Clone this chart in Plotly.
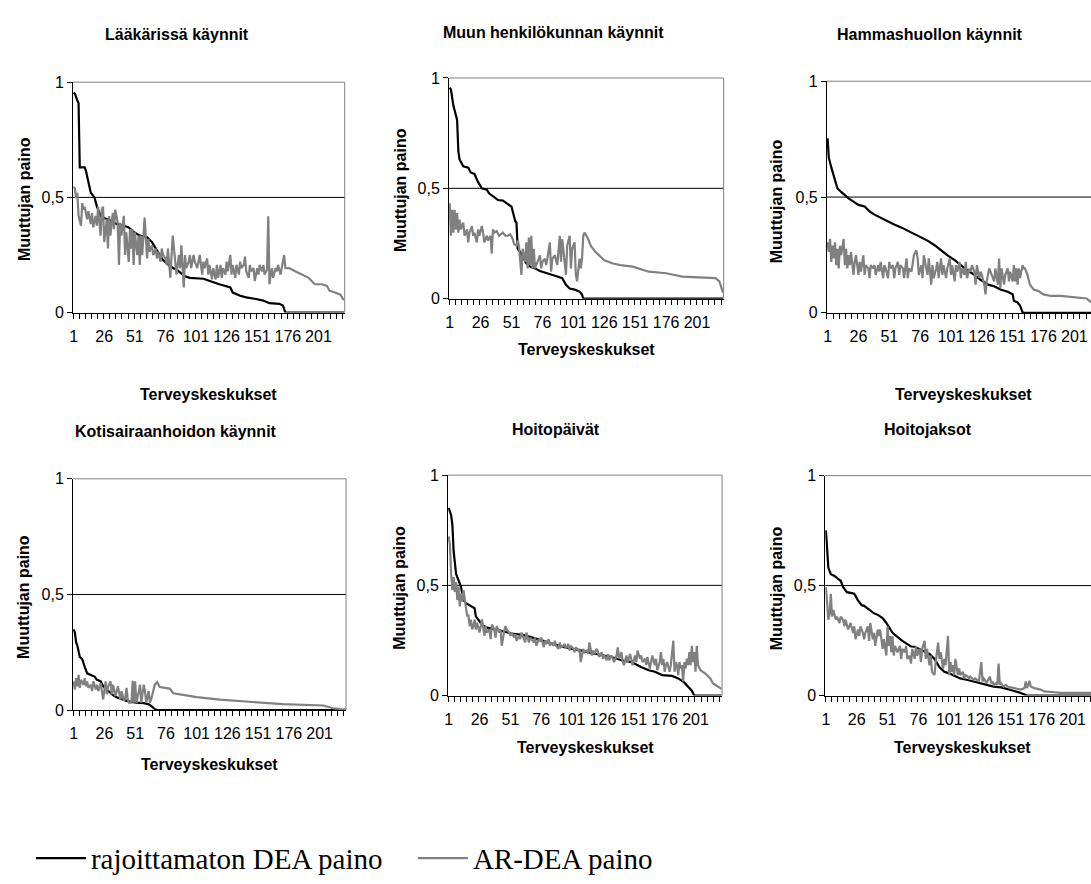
import plotly.graph_objects as go

W, H = 1091, 884

# ---------------- text ----------------
chart_titles = ["Lääkärissä käynnit", "Muun henkilökunnan käynnit", "Hammashuollon käynnit",
                "Kotisairaanhoidon käynnit", "Hoitopäivät", "Hoitojaksot"]
x_title = "Terveyskeskukset"
y_title = "Muuttujan paino"
series_names = ["rajoittamaton DEA paino", "AR-DEA paino"]

x_tick_vals = [1, 26, 51, 76, 101, 126, 151, 176, 201]
x_tick_text = ["1", "26", "51", "76", "101", "126", "151", "176", "201"]
y_tick_vals = [0, 0.5, 1]
y_tick_text = ["0", "0,5", "1"]

# ---------------- data (category, weight) ----------------
laakari_dea = [(1,.955),(2,.95),(4,.92),(5,.91),(6,.63),(10,.63),(11,.616),(13,.56),(15,.52),(18,.50),(20,.46),
               (23,.42),(26,.41),(31,.40),(36,.385),(42,.377),(46,.37),(50,.35),(55,.334),(61,.327),(65,.306),
               (69,.27),(74,.228),(80,.20),(85,.186),(92,.158),(96,.151),(107,.147),(112,.137),(120,.123),
               (129,.109),(131,.087),(137,.073),(142,.066),(150,.059),(156,.052),(161,.041),(169,.038),
               (172,.031),(174,0),(222,0)]
laakari_ar = [(1,.546),(2,.539),(3,.497),(4,.52),(5,.42),(7,.377),(8,.475),(9,.447),(10,.46),(12,.405),(13,.44),
              (15,.384),(16,.432),(17,.37),(19,.42),(20,.377),(21,.46),(23,.334),(24,.447),(25,.46),(26,.306),
              (28,.405),(29,.278),(30,.419),(31,.334),(33,.433),(34,.362),(35,.447),(37,.39),(38,.207),(39,.39),
              (40,.334),(42,.42),(43,.25),(44,.348),(46,.22),(47,.362),(48,.277),(49,.362),(50,.207),(51,.348),
              (53,.249),(54,.334),(55,.207),(56,.334),(57,.249),(59,.412),(60,.306),(61,.235),(62,.32),(63,.264),
              (65,.292),(66,.249),(68,.278),(69,.235),(70,.264),(72,.221),(73,.278),(74,.25),(76,.235),(77,.207),
              (78,.278),(80,.151),(81,.25),(82,.334),(84,.221),(85,.165),(87,.25),(88,.193),(89,.292),(91,.109),
              (92,.25),(93,.193),(95,.221),(96,.25),(97,.193),(99,.25),(100,.221),(102,.193),(103,.221),(104,.25),
              (106,.165),(107,.221),(108,.193),(110,.235),(111,.165),(112,.207),(114,.144),(115,.193),(117,.144),
              (118,.207),(119,.151),(121,.207),(122,.151),(123,.193),(125,.165),(126,.221),(127,.179),(129,.25),
              (130,.165),(131,.207),(133,.151),(134,.207),(136,.165),(137,.221),(138,.193),(140,.207),(141,.243),
              (142,.179),(144,.151),(145,.207),(146,.179),(148,.193),(149,.137),(151,.193),(152,.165),(153,.207),
              (155,.179),(156,.207),(157,.165),(159,.186),(160,.418),(161,.123),(162,.165),(163,.193),(164,.151),
              (166,.193),(167,.179),(168,.207),(170,.165),(171,.193),(172,.207),(173,.25),(174,.193),(177,.193),
              (182,.179),(187,.165),(193,.151),(198,.123),(204,.123),(208,.116),(210,.095),(214,.088),(219,.078),
              (221,.06),(222,.055)]

muu_dea = [(1,.956),(2,.948),(4,.875),(7,.81),(8,.668),(9,.63),(12,.60),(16,.594),(18,.572),(21,.565),(24,.528),
           (27,.50),(31,.494),(33,.476),(37,.46),(40,.447),(44,.444),(47,.432),(51,.417),(52,.395),(54,.351),
           (55,.344),(56,.226),(58,.211),(60,.189),(63,.16),(66,.145),(70,.137),(74,.125),(79,.115),(83,.108),
           (88,.10),(92,.093),(95,.063),(98,.046),(102,.041),(106,.031),(108,.019),(109,0),(222,0)]
muu_ar = [(1,.432),(2,.285),(3,.403),(4,.299),(5,.403),(6,.314),(7,.388),(8,.299),(9,.358),(10,.314),(12,.344),
          (13,.285),(15,.314),(16,.255),(17,.299),(19,.329),(20,.285),(21,.299),(23,.255),(24,.314),(25,.285),
          (27,.329),(28,.299),(29,.255),(31,.285),(32,.263),(34,.285),(35,.204),(36,.314),(37,.299),(39,.306),
          (41,.285),(44,.299),(46,.285),(48,.285),(50,.292),(52,.27),(53,.248),(55,.24),(56,.263),(57,.24),
          (59,.108),(60,.226),(61,.196),(62,.167),(63,.255),(64,.137),(65,.277),(66,.152),(67,.285),(68,.137),
          (69,.226),(70,.137),(71,.152),(72,.167),(74,.196),(75,.137),(76,.167),(78,.181),(79,.152),(80,.181),
          (82,.255),(83,.122),(84,.181),(86,.196),(87,.167),(88,.152),(90,.285),(91,.167),(92,.27),(94,.137),
          (95,.108),(96,.24),(98,.285),(99,.137),(100,.226),(102,.255),(103,.108),(104,.078),(106,.181),
          (107,.137),(108,.181),(109,.285),(110,.299),(113,.27),(115,.24),(119,.211),(122,.196),(126,.174),
          (133,.159),(139,.152),(149,.145),(162,.122),(176,.115),(189,.10),(202,.096),(216,.093),(219,.078),
          (221,.049),(222,.027)]

hammas_dea = [(1,.754),(2,.67),(4,.628),(7,.572),(9,.537),(12,.522),(15,.508),(18,.494),(22,.48),(26,.466),
              (31,.459),(35,.438),(39,.424),(44,.41),(50,.396),(55,.382),(61,.368),(66,.354),(71,.34),(77,.326),
              (82,.312),(88,.291),(93,.27),(98,.249),(104,.228),(109,.206),(114,.185),(120,.164),(125,.143),
              (131,.122),(136,.115),(141,.101),(147,.091),(151,.08),(152,.052),(155,.045),(157,.031),(159,.003),
              (160,0),(222,0)]
hammas_ar = [(1,.305),(2,.263),(3,.319),(4,.22),(5,.29),(6,.235),(7,.305),(8,.206),(9,.277),(10,.192),(11,.29),
             (12,.249),(14,.319),(15,.206),(16,.277),(17,.192),(18,.249),(19,.206),(20,.263),(22,.164),(23,.22),
             (24,.249),(26,.164),(27,.22),(28,.178),(30,.249),(31,.164),(32,.206),(34,.192),(35,.15),(36,.206),
             (38,.192),(39,.206),(40,.164),(42,.206),(43,.178),(44,.22),(46,.15),(47,.206),(48,.192),(50,.15),
             (51,.22),(52,.192),(54,.206),(55,.15),(56,.192),(58,.22),(59,.164),(60,.206),(62,.192),(63,.15),
             (65,.235),(66,.15),(67,.192),(69,.178),(70,.22),(71,.249),(73,.27),(74,.235),(75,.164),(77,.206),
             (78,.15),(79,.249),(81,.192),(82,.164),(83,.235),(85,.122),(86,.206),(87,.15),(89,.192),(90,.22),
             (91,.15),(93,.235),(94,.164),(95,.206),(97,.15),(98,.192),(100,.235),(101,.164),(102,.206),(104,.136),
             (105,.206),(106,.178),(108,.22),(109,.15),(110,.192),(112,.164),(113,.22),(114,.15),(116,.192),
             (117,.178),(118,.206),(120,.178),(121,.122),(122,.206),(124,.15),(125,.178),(126,.164),(128,.122),
             (129,.08),(130,.136),(132,.192),(133,.178),(135,.15),(136,.136),(137,.192),(139,.122),(140,.235),
             (141,.108),(142,.192),(143,.164),(144,.122),(145,.164),(147,.192),(148,.136),(149,.178),(151,.136),
             (152,.206),(153,.136),(154,.192),(155,.122),(156,.192),(157,.15),(159,.206),(160,.192),(161,.192),
             (163,.164),(165,.122),(168,.101),(172,.094),(176,.08),(182,.073),(190,.073),(201,.066),(211,.062),
             (214,.048),(222,.04)]

koti_dea = [(1,.349),(2,.335),(3,.293),(4,.279),(6,.23),(8,.22),(10,.187),(12,.159),(15,.152),(18,.145),(20,.131),
            (23,.124),(25,.103),(28,.089),(31,.075),(33,.065),(36,.056),(39,.049),(43,.042),(47,.037),(52,.032),
            (58,.03),(62,.025),(65,.014),(67,.004),(69,0),(222,0)]
koti_ar = [(1,.124),(2,.089),(3,.138),(4,.103),(5,.152),(6,.096),(7,.131),(9,.11),(10,.138),(11,.103),(12,.124),
           (13,.096),(15,.11),(16,.082),(17,.124),(19,.089),(20,.11),(21,.082),(23,.117),(24,.082),(25,.046),
           (27,.124),(28,.068),(29,.103),(31,.124),(32,.068),(33,.11),(35,.061),(36,.089),(37,.103),(39,.046),
           (40,.082),(42,.039),(43,.054),(44,.096),(45,.046),(46,.032),(48,.032),(49,.127),(50,.032),(51,.124),
           (52,.032),(54,.082),(55,.11),(56,.032),(58,.11),(59,.082),(60,.032),(62,.082),(63,.032),(64,.046),
           (66,.082),(67,.11),(69,.121),(71,.10),(79,.093),(82,.073),(90,.066),(101,.056),(120,.045),(144,.036),
           (171,.026),(204,.02),(212,.008),(218,.004),(222,.002)]

hoitopaivat_dea = [(1,.851),(3,.818),(4,.774),(5,.655),(7,.552),(8,.537),(9,.522),(11,.493),(12,.463),(13,.433),
                   (15,.419),(19,.404),(22,.396),(23,.359),(26,.337),(28,.322),(32,.308),(39,.30),(44,.293),
                   (52,.281),(61,.275),(69,.263),(77,.249),(85,.234),(93,.222),(101,.212),(109,.204),(117,.192),
                   (125,.185),(133,.175),(141,.16),(149,.152),(157,.13),(163,.115),(168,.108),(174,.093),
                   (182,.089),(187,.078),(191,.064),(195,.041),(198,.022),(200,0),(222,0)]
hoitopaivat_ar = [(1,.722),(2,.685),(3,.552),(4,.478),(5,.537),(6,.47),(7,.515),(8,.433),(9,.493),(10,.404),
                  (11,.463),(12,.426),(13,.478),(14,.433),(15,.389),(16,.359),(17,.367),(18,.315),(19,.345),
                  (20,.30),(21,.315),(22,.345),(23,.30),(24,.33),(26,.286),(27,.322),(28,.345),(30,.271),(31,.315),
                  (32,.286),(34,.30),(35,.256),(36,.322),(38,.30),(39,.263),(40,.315),(42,.286),(43,.30),(44,.226),
                  (46,.293),(47,.315),(48,.30),(50,.286),(51,.271),(52,.286),(54,.263),(55,.278),(56,.249),
                  (58,.271),(59,.256),(60,.286),(62,.256),(63,.241),(64,.286),(66,.241),(67,.263),(68,.256),
                  (70,.241),(71,.263),(72,.226),(74,.256),(75,.249),(76,.263),(78,.219),(79,.249),(80,.234),
                  (82,.256),(83,.226),(84,.241),(86,.226),(87,.249),(88,.226),(90,.212),(91,.241),(92,.219),
                  (94,.226),(95,.234),(96,.212),(98,.234),(99,.204),(100,.226),(102,.212),(103,.197),(104,.219),
                  (106,.204),(107,.212),(108,.152),(110,.212),(111,.197),(113,.204),(114,.189),(115,.241),
                  (117,.182),(118,.204),(119,.189),(121,.212),(122,.197),(123,.175),(125,.197),(126,.167),
                  (127,.182),(129,.16),(130,.189),(131,.16),(133,.182),(134,.167),(135,.152),(137,.182),(138,.219),
                  (139,.167),(141,.197),(142,.152),(143,.138),(145,.182),(146,.152),(148,.189),(149,.167),
                  (150,.138),(152,.182),(153,.152),(154,.204),(156,.167),(157,.182),(158,.152),(160,.167),
                  (161,.138),(162,.175),(164,.123),(165,.152),(166,.182),(168,.138),(169,.167),(170,.115),
                  (172,.152),(173,.197),(174,.138),(175,.167),(176,.108),(177,.138),(178,.152),(180,.108),
                  (181,.138),(183,.249),(184,.108),(185,.152),(186,.138),(187,.093),(188,.152),(189,.123),
                  (190,.138),(191,.064),(192,.152),(193,.123),(194,.167),(195,.138),(196,.197),(197,.138),
                  (198,.226),(199,.152),(200,.197),(201,.108),(202,.226),(203,.138),(205,.115),(209,.10),
                  (213,.078),(215,.056),(219,.041),(222,.03)]

hoitojaksot_dea = [(1,.751),(2,.655),(3,.581),(5,.552),(8,.544),(11,.53),(13,.522),(15,.493),(18,.47),(22,.466),
                   (24,.463),(27,.433),(30,.411),(32,.408),(35,.396),(38,.382),(40,.374),(43,.367),(47,.352),
                   (50,.33),(53,.30),(55,.285),(58,.271),(61,.256),(63,.249),(67,.234),(70,.223),(73,.222),
                   (77,.212),(81,.20),(85,.189),(89,.167),(93,.13),(97,.108),(101,.101),(105,.09),(110,.078),
                   (116,.071),(121,.064),(127,.056),(132,.046),(137,.041),(143,.037),(148,.031),(153,.022),
                   (159,.012),(163,.004),(164,0),(222,0)]
hoitojaksot_ar = [(1,.493),(2,.404),(3,.345),(4,.374),(5,.463),(6,.359),(7,.389),(8,.367),(9,.345),(10,.359),
                  (12,.33),(13,.359),(15,.345),(16,.315),(17,.345),(19,.30),(20,.315),(21,.33),(23,.285),(24,.315),
                  (25,.256),(27,.30),(28,.271),(29,.315),(31,.285),(32,.256),(33,.285),(35,.315),(36,.249),(37,.33),
                  (39,.256),(40,.285),(41,.226),(43,.30),(44,.271),(45,.30),(47,.212),(48,.256),(50,.182),(51,.315),
                  (52,.226),(53,.271),(54,.197),(55,.271),(56,.182),(57,.226),(58,.212),(59,.197),(61,.226),
                  (62,.167),(63,.212),(65,.197),(66,.226),(67,.167),(69,.182),(70,.145),(71,.212),(73,.167),
                  (74,.226),(75,.182),(77,.212),(78,.152),(79,.212),(81,.249),(82,.167),(83,.212),(85,.138),
                  (86,.182),(87,.108),(89,.093),(90,.152),(92,.241),(93,.167),(94,.197),(96,.123),(97,.167),
                  (98,.138),(100,.271),(101,.093),(102,.152),(103,.108),(104,.138),(105,.093),(106,.167),(108,.093),
                  (109,.123),(110,.093),(112,.108),(113,.078),(114,.093),(116,.086),(117,.078),(118,.086),(120,.078),
                  (121,.071),(122,.078),(124,.071),(125,.064),(127,.152),(128,.064),(129,.078),(130,.071),(131,.056),
                  (133,.078),(134,.086),(135,.056),(136,.064),(137,.049),(139,.056),(140,.049),(141,.145),(142,.049),
                  (143,.056),(145,.041),(147,.049),(148,.041),(151,.037),(153,.034),(156,.031),(159,.027),(162,.034),
                  (163,.064),(164,.034),(165,.049),(166,.067),(167,.041),(170,.034),(175,.027),(178,.019),
                  (186,.015),(191,.012),(222,.012)]

dea_series = [laakari_dea, muu_dea, hammas_dea, koti_dea, hoitopaivat_dea, hoitojaksot_dea]
ar_series = [laakari_ar, muu_ar, hammas_ar, koti_ar, hoitopaivat_ar, hoitojaksot_ar]

# ---------------- layout geometry (pixels) ----------------
# plot box: left, right, top(=1), bottom(=0), last visible category, draw right border
boxes = [
    dict(l=69.3, r=342.0, t=76.0, b=312.0, xmax=222.5, right=True),
    dict(l=446.7, r=722.3, t=71.7, b=297.7, xmax=222.5, right=True),
    dict(l=826.0, r=1091.0, t=75.0, b=312.3, xmax=214.5, right=False),
    dict(l=69.3, r=343.3, t=482.3, b=719.2, xmax=222.5, right=True),
    dict(l=445.7, r=720.7, t=478.5, b=704.3, xmax=222.5, right=True),
    dict(l=824.3, r=1091.0, t=479.0, b=704.3, xmax=215.9, right=False),
]
title_pos = [(174, 26.7), (551.5, 25), (929.5, 26.7), (172.5, 433.3), (554, 431.7), (927.7, 431.7)]
ytitle_pos = [(20, 195.8), (397.3, 186.7), (775.3, 197.5), (20, 603.3), (397.3, 594), (775.3, 594)]
xtitle_pos = [(205.5, 396), (584.5, 350), (963.5, 396), (206.3, 775), (583.2, 757.3), (961.8, 757.3)]

SANS = "Liberation Sans, Arial, sans-serif"
SERIF = "Liberation Serif, Times New Roman, serif"
BLACK = "#000000"
GREY = "#808080"

fig = go.Figure()
layout = dict(
    width=W, height=H, autosize=False,
    margin=dict(l=0, r=0, t=0, b=0),
    paper_bgcolor="white", plot_bgcolor="white",
    font=dict(family=SANS, size=16, color="black"),
    showlegend=True,
    legend=dict(orientation="h", x=27 / W, y=1 - 871 / H, xanchor="left", yanchor="middle",
                font=dict(family=SERIF, size=29, color="black"), bgcolor="rgba(0,0,0,0)",
                itemwidth=50, entrywidth=317, entrywidthmode="pixels", traceorder="normal"),
)
shapes = []
annotations = []

for i, b in enumerate(boxes):
    sx = "" if i == 0 else str(i + 1)
    layout["xaxis" + sx] = dict(
        domain=[b["l"] / W, b["r"] / W], anchor="y" + sx, range=[0.5, b["xmax"]],
        tickmode="array", tickvals=x_tick_vals, ticktext=x_tick_text, ticks="",
        showline=True, linecolor=BLACK, linewidth=1, showgrid=False, zeroline=False,
        minor=dict(tickmode="linear", tick0=0.5, dtick=5, ticks="outside", ticklen=5,
                   tickcolor=BLACK, tickwidth=1, showgrid=False),
        tickfont=dict(family=SANS, size=16, color="black"), ticklabelstandoff=9,
        fixedrange=True,
    )
    layout["yaxis" + sx] = dict(
        domain=[1 - b["b"] / H, 1 - b["t"] / H], anchor="x" + sx, range=[0, 1],
        tickmode="array", tickvals=y_tick_vals, ticktext=y_tick_text, ticks="outside",
        ticklen=5, tickcolor=BLACK, showline=True, linecolor=BLACK, linewidth=1,
        showgrid=False, zeroline=False, tickfont=dict(family=SANS, size=16, color="black"),
        fixedrange=True,
    )
    xr, yr = "x" + sx, "y" + sx
    # gridline at 0.5
    shapes.append(dict(type="line", xref=xr + " domain", yref=yr, x0=0, x1=1, y0=0.5, y1=0.5,
                       line=dict(color=BLACK, width=1), layer="below"))
    # grey top / right border of plot area
    shapes.append(dict(type="line", xref=xr + " domain", yref=yr + " domain", x0=0, x1=1, y0=1, y1=1,
                       line=dict(color=GREY, width=1), layer="below"))
    if b["right"]:
        shapes.append(dict(type="line", xref=xr + " domain", yref=yr + " domain", x0=1, x1=1, y0=0, y1=1,
                           line=dict(color=GREY, width=1), layer="below"))

    dx, dy = zip(*dea_series[i])
    ax_, ay_ = zip(*ar_series[i])
    fig.add_trace(go.Scatter(x=list(dx), y=list(dy), mode="lines", name=series_names[0],
                             line=dict(color=BLACK, width=2.2), xaxis=xr, yaxis=yr,
                             showlegend=(i == 0), legendgroup="dea", hoverinfo="skip"))
    fig.add_trace(go.Scatter(x=list(ax_), y=list(ay_), mode="lines", name=series_names[1],
                             line=dict(color=GREY, width=2.2), xaxis=xr, yaxis=yr,
                             showlegend=(i == 0), legendgroup="ar", hoverinfo="skip"))

    tx, ty = title_pos[i]
    annotations.append(dict(text="<b>" + chart_titles[i] + "</b>", x=tx / W, y=1 - ty / H,
                            xref="paper", yref="paper", xanchor="center", yanchor="middle",
                            showarrow=False, font=dict(family=SANS, size=16, color="black")))
    yx, yy = ytitle_pos[i]
    annotations.append(dict(text="<b>" + y_title + "</b>", x=yx / W, y=1 - yy / H, textangle=-90,
                            xref="paper", yref="paper", xanchor="center", yanchor="middle",
                            showarrow=False, font=dict(family=SANS, size=16, color="black")))
    xx, xy = xtitle_pos[i]
    annotations.append(dict(text="<b>" + x_title + "</b>", x=xx / W, y=1 - xy / H,
                            xref="paper", yref="paper", xanchor="center", yanchor="middle",
                            showarrow=False, font=dict(family=SANS, size=16, color="black")))

layout["shapes"] = shapes
layout["annotations"] = annotations
fig.update_layout(**layout)

fig.write_html("out.html", config={"displayModeBar": False, "staticPlot": True},
               post_script="document.body.style.margin='0px';")
